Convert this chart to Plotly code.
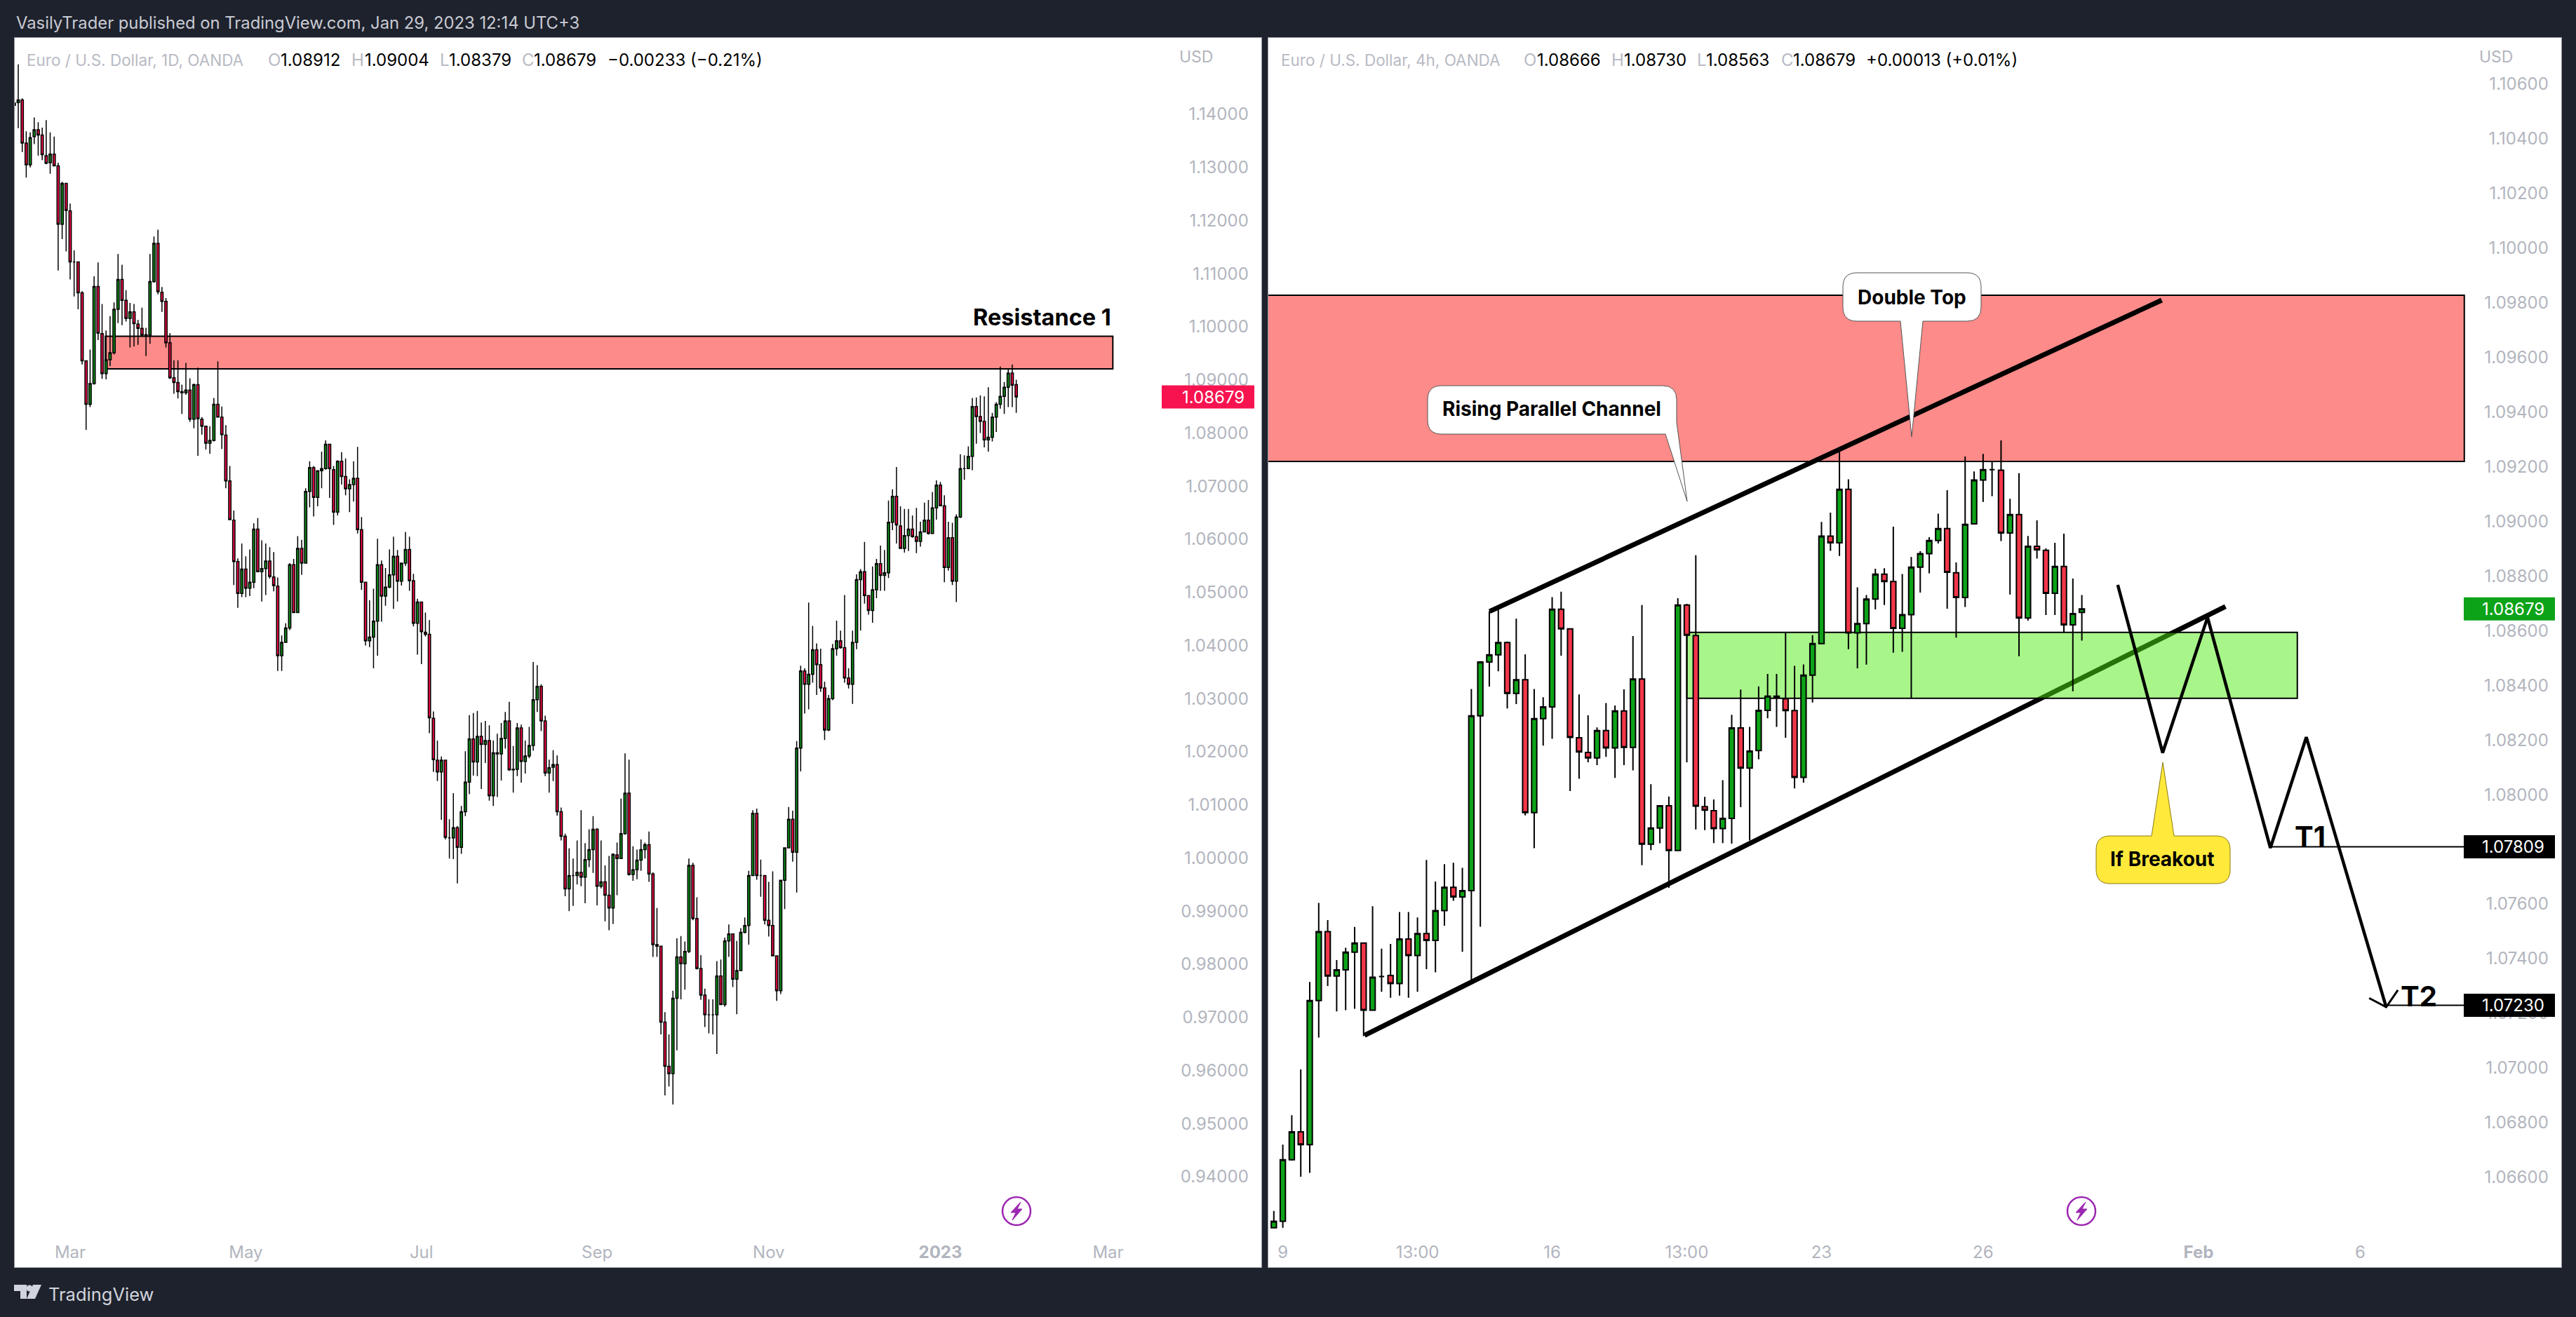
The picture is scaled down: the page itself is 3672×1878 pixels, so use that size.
import plotly.graph_objects as go

W, H = 3672, 1878
BG = "#1E222D"
FONT = "Inter"

# ---------- Daily EURUSD (left panel) ----------
d_open = [
1.1421,1.1422,1.1427,1.1346,1.1305,1.1358,1.1371,1.1361,1.1322,1.1309,
1.1325,1.1303,1.1193,1.1270,1.1218,1.1122,1.1122,1.1064,1.0936,1.0854,
1.0893,1.1076,1.0987,1.0912,1.0938,1.0951,1.1033,1.1089,1.1050,1.1016,
1.1028,1.1005,1.0997,1.0984,1.0984,1.1085,1.1157,1.1065,1.1048,1.0970,
1.0904,1.0895,1.0878,1.0876,1.0881,1.0826,1.0891,1.0826,1.0813,1.0781,
1.0786,1.0854,1.0830,1.0796,1.0710,1.0636,1.0558,1.0498,1.0544,1.0508,
1.0519,1.0619,1.0539,1.0545,1.0559,1.0529,1.0512,1.0381,1.0406,1.0433,
1.0552,1.0462,1.0583,1.0555,1.0690,1.0735,1.0679,1.0729,1.0733,1.0779,
1.0731,1.0651,1.0747,1.0718,1.0695,1.0703,1.0715,1.0618,1.0519,1.0409,
1.0416,1.0446,1.0552,1.0493,1.0510,1.0533,1.0568,1.0521,1.0555,1.0581,
1.0522,1.0442,1.0482,1.0425,1.0421,1.0263,1.0184,1.0162,1.0184,1.0038,
1.0038,1.0057,1.0020,1.0087,1.0143,1.0224,1.0181,1.0229,1.0214,1.0221,
1.0117,1.0198,1.0196,1.0225,1.0258,1.0166,1.0167,1.0245,1.0182,1.0192,
1.0212,1.0298,1.0323,1.0258,1.0160,1.0171,1.0176,1.0087,1.0041,.9942,
.9967,.9967,.9973,.9964,.9997,1.0016,1.0054,.9947,.9955,.9930,
.9906,1.0006,.9999,1.0046,1.0122,.9969,.9978,.9996,1.0016,1.0025,
.9970,.9837,.9834,.9691,.9608,.9594,.9736,.9814,.9801,.9824,
.9986,.9886,.9792,.9742,.9705,.9705,.9705,.9778,.9724,.9844,
.9857,.9772,.9788,.9860,.9873,.9967,1.0084,.9967,.9967,.9883,
.9873,.9816,.9750,.9958,1.0019,1.0073,1.0011,1.0207,1.0352,1.0327,
1.0346,1.0392,1.0364,1.0320,1.0241,1.0300,1.0394,1.0409,1.0396,1.0339,
1.0327,1.0406,1.0524,1.0539,1.0494,1.0466,1.0505,1.0554,1.0532,1.0537,
1.0632,1.0681,1.0625,1.0583,1.0607,1.0619,1.0605,1.0596,1.0614,1.0636,
1.0611,1.0659,1.0702,1.0663,1.0547,1.0603,1.0521,1.0642,1.0733,1.0733,
1.0756,1.0850,1.0831,1.0822,1.0787,1.0792,1.0830,1.0854,1.0869,1.0886,
1.0913,1.08912]
d_high = [
1.1447,1.1494,1.1430,1.1368,1.1366,1.1394,1.1385,1.1375,1.1389,1.1366,
1.1358,1.1309,1.1273,1.1270,1.1232,1.1144,1.1122,1.1067,1.0937,1.0957,
1.1095,1.1121,1.1043,1.0993,1.1020,1.1046,1.1137,1.1117,1.1069,1.1045,
1.1043,1.1013,1.1036,1.0998,1.1137,1.1170,1.1183,1.1075,1.1054,1.0988,
1.0937,1.0937,1.0891,1.0932,1.0903,1.0893,1.0923,1.0830,1.0814,1.0813,
1.0866,1.0935,1.0850,1.0815,1.0738,1.0654,1.0564,1.0592,1.0568,1.0581,
1.0630,1.0640,1.0598,1.0592,1.0585,1.0576,1.0528,1.0419,1.0442,1.0555,
1.0563,1.0606,1.0599,1.0696,1.0747,1.0738,1.0730,1.0765,1.0786,1.0780,
1.0738,1.0749,1.0764,1.0752,1.0713,1.0747,1.0774,1.0642,1.0519,1.0485,
1.0507,1.0601,1.0560,1.0546,1.0581,1.0605,1.0580,1.0555,1.0614,1.0605,
1.0535,1.0488,1.0482,1.0462,1.0448,1.0276,1.0221,1.0191,1.0184,1.0073,
1.0122,1.0060,1.0098,1.0201,1.0269,1.0273,1.0277,1.0255,1.0258,1.0250,
1.0221,1.0234,1.0254,1.0275,1.0294,1.0211,1.0254,1.0251,1.0221,1.0247,
1.0369,1.0363,1.0327,1.0268,1.0185,1.0203,1.0193,1.0095,1.0046,1.0018,
.9999,1.0033,1.0090,1.0028,1.0054,1.0079,1.0056,1.0033,.9986,1.0004,
1.0009,1.0029,1.0112,1.0197,1.0185,1.0022,1.0016,1.0035,1.0029,1.0050,
.9973,.9906,.9834,.9710,.9668,.9750,.9849,.9853,.9843,.9999,
.9991,.9926,.9817,.9754,.9734,.9734,.9806,.9809,.9850,.9875,
.9857,.9844,.9868,.9888,.9976,1.0090,1.0093,.9997,.9967,.9955,
.9975,.9816,.9958,1.0019,1.0096,1.0089,1.0220,1.0362,1.0357,1.0481,
1.0437,1.0404,1.0394,1.0332,1.0307,1.0403,1.0447,1.0428,1.0495,1.0357,
1.0428,1.0534,1.0544,1.0595,1.0494,1.0549,1.0563,1.0588,1.0580,1.0673,
1.0694,1.0736,1.0662,1.0657,1.0657,1.0645,1.0659,1.0633,1.0669,1.0674,
1.0689,1.0711,1.0708,1.0683,1.0633,1.0631,1.0647,1.0760,1.0758,1.0775,
1.0866,1.0867,1.0871,1.0869,1.0886,1.0838,1.0858,1.0925,1.0896,1.0921,
1.0929,1.09004]
d_low = [
1.1401,1.1374,1.1329,1.1281,1.1300,1.1344,1.1322,1.1314,1.1306,1.1288,
1.1302,1.1106,1.1165,1.1142,1.1089,1.1057,1.1033,1.0929,1.0806,1.0849,
1.0891,1.0975,1.0902,1.0901,1.0926,1.0948,1.1007,1.1003,1.1010,1.0961,
1.0963,1.0966,1.0983,1.0945,1.0968,1.1083,1.1061,1.1028,1.0961,1.0902,
1.0874,1.0865,1.0836,1.0872,1.0821,1.0809,1.0757,1.0797,1.0769,1.0761,
1.0784,1.0830,1.0770,1.0696,1.0636,1.0514,1.0471,1.0491,1.0491,1.0493,
1.0508,1.0538,1.0483,1.0495,1.0526,1.0502,1.0352,1.0352,1.0405,1.0429,
1.0461,1.0461,1.0533,1.0554,1.0660,1.0643,1.0662,1.0696,1.0731,1.0678,
1.0627,1.0645,1.0703,1.0683,1.0651,1.0671,1.0611,1.0505,1.0400,1.0397,
1.0357,1.0381,1.0445,1.0475,1.0508,1.0469,1.0483,1.0513,1.0550,1.0503,
1.0436,1.0383,1.0365,1.0417,1.0235,1.0162,1.0145,1.0072,1.0035,.9999,
.9998,.9952,1.0008,1.0079,1.0120,1.0155,1.0154,1.0130,1.0179,1.0108,
1.0098,1.0115,1.0146,1.0206,1.0164,1.0123,1.0154,1.0142,1.0159,1.0188,
1.0202,1.0275,1.0239,1.0154,1.0123,1.0145,1.0080,1.0033,.9928,.9900,
.9910,.9950,.9947,.9915,.9983,.9972,.9911,.9943,.9881,.9864,
.9876,.9930,.9999,1.0044,.9967,.9957,.9960,.9976,.9999,.9955,
.9814,.9814,.9668,.9553,.9570,.9536,.9638,.9734,.9752,.9821,
.9883,.9790,.9733,.9682,.9670,.9668,.9631,.9723,.9720,.9814,
.9757,.9706,.9788,.9858,.9837,.9967,.9959,.9927,.9875,.9852,
.9816,.9731,.9744,.9904,1.0018,.9993,.9935,1.0163,1.0272,1.0280,
1.0330,1.0307,1.0313,1.0222,1.0239,1.0297,1.0381,1.0394,1.0330,1.0319,
1.0290,1.0393,1.0428,1.0479,1.0458,1.0443,1.0489,1.0503,1.0503,1.0527,
1.0617,1.0592,1.0583,1.0575,1.0578,1.0603,1.0574,1.0586,1.0613,1.0609,
1.0610,1.0637,1.0663,1.0519,1.0541,1.0514,1.0482,1.0640,1.0712,1.0733,
1.0730,1.0780,1.0800,1.0773,1.0765,1.0784,1.0802,1.0846,1.0836,1.0849,
1.0849,1.08379]
d_close = [
1.1417,1.1427,1.1346,1.1305,1.1356,1.1371,1.1361,1.1324,1.1308,1.1325,
1.1303,1.1193,1.1270,1.1219,1.1122,1.1122,1.1064,1.0936,1.0854,1.0893,
1.1076,1.0988,1.0912,1.0938,1.0951,1.1033,1.1089,1.1050,1.1016,1.1028,
1.1006,1.0997,1.0984,1.0985,1.1085,1.1157,1.1066,1.1048,1.0970,1.0904,
1.0895,1.0878,1.0876,1.0881,1.0826,1.0891,1.0827,1.0813,1.0781,1.0786,
1.0854,1.0830,1.0797,1.0710,1.0637,1.0558,1.0498,1.0544,1.0508,1.0519,
1.0619,1.0539,1.0545,1.0559,1.0530,1.0513,1.0381,1.0406,1.0433,1.0552,
1.0462,1.0583,1.0555,1.0690,1.0735,1.0679,1.0729,1.0733,1.0779,1.0733,
1.0651,1.0747,1.0718,1.0695,1.0703,1.0715,1.0618,1.0519,1.0409,1.0416,
1.0446,1.0552,1.0493,1.0510,1.0533,1.0568,1.0521,1.0555,1.0581,1.0522,
1.0442,1.0482,1.0426,1.0421,1.0264,1.0185,1.0162,1.0184,1.0039,1.0038,
1.0057,1.0020,1.0087,1.0143,1.0224,1.0181,1.0229,1.0214,1.0221,1.0117,
1.0198,1.0196,1.0225,1.0258,1.0166,1.0167,1.0245,1.0182,1.0192,1.0212,
1.0298,1.0323,1.0258,1.0160,1.0170,1.0176,1.0087,1.0041,.9942,.9967,
.9967,.9973,.9964,.9997,1.0016,1.0054,.9947,.9955,.9930,.9906,
1.0007,.9999,1.0046,1.0122,.9969,.9978,.9996,1.0016,1.0025,.9970,
.9837,.9834,.9691,.9608,.9594,.9736,.9814,.9801,.9824,.9986,
.9886,.9792,.9742,.9705,.9705,.9705,.9778,.9724,.9844,.9857,
.9772,.9788,.9860,.9873,.9967,1.0084,.9967,.9967,.9883,.9873,
.9816,.9750,.9958,1.0019,1.0073,1.0011,1.0207,1.0352,1.0327,1.0346,
1.0392,1.0364,1.0320,1.0241,1.0300,1.0394,1.0409,1.0396,1.0339,1.0327,
1.0406,1.0524,1.0539,1.0494,1.0466,1.0505,1.0554,1.0532,1.0537,1.0632,
1.0681,1.0627,1.0583,1.0607,1.0619,1.0605,1.0596,1.0614,1.0636,1.0611,
1.0659,1.0702,1.0663,1.0547,1.0603,1.0521,1.0642,1.0733,1.0733,1.0756,
1.0850,1.0831,1.0822,1.0787,1.0792,1.0830,1.0854,1.0869,1.0886,1.0913,
1.0890,1.08679]

# ---------- 4h EURUSD (right panel) ----------
h_open = [
1.06416,1.06440,1.06665,1.06767,1.06720,1.07247,1.07499,1.07337,1.07359,1.07424,
1.07457,1.07212,1.07335,1.07339,1.07309,1.07472,1.07412,1.07492,1.07467,1.07576,
1.07661,1.07626,1.07649,1.08288,1.08485,1.08511,1.08556,1.08370,1.08420,1.07934,
1.08278,1.08321,1.08678,1.08606,1.08208,1.08154,1.08134,1.08234,1.08171,1.08306,
1.08173,1.08423,1.07819,1.07878,1.07959,1.07796,1.08693,1.08582,1.07956,1.07941,
1.07876,1.07913,1.08244,1.08097,1.08161,1.08308,1.08360,1.08350,1.08307,1.08063,
1.08437,1.08552,1.08945,1.08921,1.09116,1.08591,1.08625,1.08715,1.08806,1.08779,
1.08608,1.08658,1.08832,1.08881,1.08929,1.08973,1.08811,1.08721,1.08990,1.09150,
1.09188,1.09186,1.08957,1.09024,1.08646,1.08908,1.08893,1.08736,1.08834,1.08621,
1.08666]
h_high = [
1.06478,1.06720,1.06828,1.06995,1.07315,1.07604,1.07541,1.07395,1.07440,1.07516,
1.07457,1.07592,1.07437,1.07454,1.07571,1.07571,1.07551,1.07761,1.07682,1.07746,
1.07751,1.07732,1.08386,1.08488,1.08671,1.08675,1.08560,1.08643,1.08513,1.08386,
1.08356,1.08722,1.08742,1.08606,1.08366,1.08290,1.08246,1.08335,1.08326,1.08385,
1.08580,1.08693,1.08038,1.07959,1.07993,1.08718,1.08698,1.08875,1.07992,1.07982,
1.08053,1.08292,1.08384,1.08248,1.08396,1.08441,1.08441,1.08592,1.08471,1.08476,
1.08583,1.08997,1.09031,1.09256,1.09153,1.08758,1.08730,1.08826,1.08828,1.08980,
1.08807,1.08869,1.08890,1.08941,1.09027,1.09113,1.08849,1.09236,1.09182,1.09246,
1.09217,1.09295,1.09082,1.09175,1.08946,1.09003,1.08900,1.08921,1.08954,1.08790,
1.08730]
h_low = [
1.06416,1.06416,1.06662,1.06603,1.06617,1.07112,1.07300,1.07207,1.07212,1.07217,
1.07117,1.07212,1.07279,1.07257,1.07265,1.07257,1.07279,1.07362,1.07350,1.07521,
1.07612,1.07425,1.07312,1.07517,1.08395,1.08451,1.08315,1.08331,1.07924,1.07804,
1.08179,1.08204,1.08508,1.08013,1.08058,1.08118,1.08108,1.08138,1.08061,1.08108,
1.08089,1.07742,1.07797,1.07822,1.07659,1.07796,1.08118,1.07873,1.07870,1.07823,
1.07823,1.07821,1.07954,1.07832,1.08129,1.08279,1.08248,1.08208,1.08023,1.08044,
1.08337,1.08552,1.08891,1.08873,1.08532,1.08462,1.08475,1.08677,1.08693,1.08519,
1.08522,1.08352,1.08739,1.08809,1.08918,1.08680,1.08574,1.08686,1.08990,1.09070,
1.09091,1.08927,1.08732,1.08506,1.08636,1.08863,1.08657,1.08657,1.08593,1.08378,
1.08563]
h_close = [
1.06440,1.06665,1.06767,1.06720,1.07247,1.07499,1.07337,1.07359,1.07424,1.07457,
1.07212,1.07332,1.07335,1.07309,1.07472,1.07412,1.07492,1.07467,1.07576,1.07661,
1.07626,1.07649,1.08288,1.08485,1.08511,1.08556,1.08370,1.08420,1.07934,1.08278,
1.08321,1.08678,1.08606,1.08209,1.08156,1.08134,1.08234,1.08171,1.08306,1.08173,
1.08423,1.07819,1.07878,1.07959,1.07796,1.08693,1.08583,1.07958,1.07943,1.07876,
1.07913,1.08244,1.08097,1.08159,1.08308,1.08360,1.08354,1.08307,1.08063,1.08437,
1.08552,1.08945,1.08921,1.09116,1.08591,1.08625,1.08715,1.08806,1.08779,1.08608,
1.08658,1.08832,1.08881,1.08929,1.08973,1.08813,1.08721,1.08988,1.09150,1.09188,
1.09188,1.08957,1.09024,1.08646,1.08908,1.08895,1.08736,1.08834,1.08621,1.08662,
1.08679]

# ---------- axes ----------
d_ticks_y = [0.94, 0.95, 0.96, 0.97, 0.98, 0.99, 1.00, 1.01, 1.02, 1.03, 1.04,
             1.05, 1.06, 1.07, 1.08, 1.09, 1.10, 1.11, 1.12, 1.13, 1.14]
h_ticks_y = [1.066, 1.068, 1.070, 1.072, 1.074, 1.076, 1.078, 1.080, 1.082, 1.084, 1.086,
             1.088, 1.090, 1.092, 1.094, 1.096, 1.098, 1.100, 1.102, 1.104, 1.106]
d_ticks_x = [14, 58, 102, 146, 189, 232, 274]
d_labels_x = ["Mar", "May", "Jul", "Sep", "Nov", "<b>2023</b>", "Mar"]
h_ticks_x = [1, 16, 31, 46, 61, 79, 103, 121]
h_labels_x = ["9", "13:00", "16", "13:00", "23", "26", "<b>Feb</b>", "6"]

# ---------- drawings, in price / bar units ----------
d_zone = dict(x0=22.8, x1=275.2, top=1.09822, bottom=1.09208)
h_red_zone = dict(x0=-3, x1=132.6, top=1.09826, bottom=1.09218)
h_green_zone = dict(x0=46, x1=114.0, top=1.08593, bottom=1.08352)
upper_x, upper_y = [24.03, 98.9], [1.08670, 1.09808]
lower_x, lower_y = [10.1, 106.0], [1.07120, 1.08688]
path_x = [94.0, 99.0, 104.0, 111.0, 115.0, 123.9]
path_y = [1.08767, 1.08153, 1.08648, 1.07805, 1.08210, 1.07223]
head_x = [122.0, 123.9, 125.2]
head_y = [1.07256, 1.07223, 1.07285]
t1_x, t1_y = [111.0, 132.6], [1.07809, 1.07809]
t2_x, t2_y = [123.9, 132.6], [1.07230, 1.07230]
last_price = 1.08679

D_RED, D_GREEN = "#F70A47", "#0F8F1A"
H_RED, H_GREEN = "#F23649", "#0DA318"

fig = go.Figure()


def candles(x, o, h, l, c, up, down, lw, xa, ya):
    fig.add_trace(go.Candlestick(
        x=x, open=o, high=h, low=l, close=c, xaxis=xa, yaxis=ya, whiskerwidth=0,
        increasing=dict(fillcolor=up, line=dict(color="#000000", width=lw)),
        decreasing=dict(fillcolor=down, line=dict(color="#000000", width=lw)),
        showlegend=False, hoverinfo="skip"))


candles(list(range(len(d_open))), d_open, d_high, d_low, d_close, D_GREEN, D_RED, 1.5, "x", "y")
candles(list(range(len(h_open))), h_open, h_high, h_low, h_close, H_GREEN, H_RED, 2, "x2", "y2")


def line(x, y, width):
    fig.add_trace(go.Scatter(x=x, y=y, mode="lines", xaxis="x2", yaxis="y2", showlegend=False,
                             hoverinfo="skip", line=dict(color="#000000", width=width)))


line(path_x, path_y, 4.5)
line(head_x, head_y, 3)
line(t1_x, t1_y, 2)
line(t2_x, t2_y, 2)

shapes = []


def zone(z, xr, yr, fill, lw=2):
    shapes.append(dict(type="rect", xref=xr, yref=yr, x0=z["x0"], x1=z["x1"], y0=z["bottom"], y1=z["top"],
                       fillcolor=fill, line=dict(color="#000000", width=lw), layer="below"))


def seg(xs, ys, lw):
    shapes.append(dict(type="line", xref="x2", yref="y2", x0=xs[0], x1=xs[1], y0=ys[0], y1=ys[1],
                       line=dict(color="#000000", width=lw), layer="below"))


zone(d_zone, "x", "y", "#FC8B89")
zone(h_red_zone, "x2", "y2", "#FC8B89")
seg(upper_x, upper_y, 7)
seg(lower_x, lower_y, 7)
zone(h_green_zone, "x2", "y2", "rgba(78,235,16,0.49)")


def P(x, y):
    return f"{x / W:.6f},{1 - y / H:.6f}"


def pa(d, fill, stroke="#555555", lw=1):
    shapes.append(dict(type="path", xref="paper", yref="paper", path=d, fillcolor=fill,
                       line=dict(color=stroke, width=lw), layer="above"))


def rounded(l, t, r, b, rad, top_pts=(), right_tail=(), bottom_pts=()):
    d = f"M{P(l + rad, t)}"
    for q in top_pts:
        d += f" L{P(*q)}"
    d += f" L{P(r - rad, t)} Q{P(r, t)} {P(r, t + rad)}"
    if right_tail:
        # the pointer replaces the bottom-right corner
        for q in right_tail:
            d += f" L{P(*q)}"
    else:
        d += f" L{P(r, b - rad)} Q{P(r, b)} {P(r - rad, b)}"
    for q in bottom_pts:
        d += f" L{P(*q)}"
    d += f" L{P(l + rad, b)} Q{P(l, b)} {P(l, b - rad)} L{P(l, t + rad)} Q{P(l, t)} {P(l + rad, t)} Z"
    return d


# callouts
pa(rounded(2035, 550, 2390, 619, 20, right_tail=[(2390, 602), (2405, 715), (2374, 619)]), "#FFFFFF")
pa(rounded(2627, 389, 2824, 458, 20, bottom_pts=[(2741, 458), (2725, 623), (2709, 458)]), "#FFFFFF")
pa(rounded(2988, 1192, 3179, 1260, 20, top_pts=[(3067, 1192), (3083, 1087), (3099, 1192)]), "#FFE93B", "#8a7a10")

# price labels
for yr, price, fill, x0, x1, in [("y", last_price, "#F7134F", 1656, 1788),
                                 ("y2", last_price, H_GREEN, 3512, 3642),
                                 ("y2", t1_y[0], "#000000", 3512, 3642),
                                 ("y2", t2_y[0], "#000000", 3512, 3642)]:
    shapes.append(dict(type="rect", xref="paper", yref=yr, ysizemode="pixel", yanchor=price,
                       y0=-16.5, y1=16.5, x0=x0 / W, x1=x1 / W, fillcolor=fill, line=dict(width=0),
                       layer="above"))

# lightning icons
for cx in (1449, 2967):
    cy = 1727
    shapes.append(dict(type="circle", xref="paper", yref="paper", x0=(cx - 20) / W, x1=(cx + 20) / W,
                       y0=1 - (cy + 20) / H, y1=1 - (cy - 20) / H, fillcolor="#FFFFFF",
                       line=dict(color="#9C27B0", width=2.5), layer="above"))
    pa(f"M{P(cx + 6, cy - 13)} L{P(cx - 8, cy + 2)} L{P(cx - 1, cy + 2)} L{P(cx - 6, cy + 13)} "
       f"L{P(cx + 8, cy - 3)} L{P(cx + 1, cy - 3)} Z", "#9C27B0", "#9C27B0", 1)

# footer logo
pa(f"M{P(20, 1832)} L{P(38, 1832)} L{P(38, 1852)} L{P(29, 1852)} L{P(29, 1841)} L{P(20, 1841)} Z",
   "#D1D4DC", "#D1D4DC", 0)
pa(f"M{P(47, 1832)} L{P(59, 1832)} L{P(50, 1852)} L{P(38, 1852)} Z", "#D1D4DC", "#D1D4DC", 0)
shapes.append(dict(type="circle", xref="paper", yref="paper", x0=37.5 / W, x1=46.5 / W,
                   y0=1 - 1841.5 / H, y1=1 - 1832.5 / H, fillcolor="#D1D4DC", line=dict(width=0), layer="above"))

ann = []


def note(x, y, text, size=24, color="#000000", anchor="left"):
    ann.append(dict(xref="paper", yref="paper", x=x / W, y=1 - y / H, text=text, showarrow=False,
                    xanchor=anchor, yanchor="middle", font=dict(family=FONT, size=size, color=color)))


GREY = "#B8BAC4"
note(21, 32, "VasilyTrader published on TradingView.com, Jan 29, 2023 12:14 UTC+3", 23.8, "#C9CBD3")
note(67, 1845, "TradingView", 25.5, "#D1D4DC")

for x, t, c, s in [(36, "Euro / U.S. Dollar, 1D, OANDA", GREY, 22.5), (380, "O", GREY, 24), (398, "1.08912", "#000", 24),
                   (499, "H", GREY, 24), (518, "1.09004", "#000", 24), (625, "L", GREY, 24), (638, "1.08379", "#000", 24),
                   (742, "C", GREY, 24), (759, "1.08679", "#000", 24), (864, "−0.00233 (−0.21%)", "#000", 24),
                   (1824, "Euro / U.S. Dollar, 4h, OANDA", GREY, 22.5), (2170, "O", GREY, 24), (2189, "1.08666", "#000", 24),
                   (2295, "H", GREY, 24), (2313, "1.08730", "#000", 24), (2417, "L", GREY, 24), (2430, "1.08563", "#000", 24),
                   (2537, "C", GREY, 24), (2554, "1.08679", "#000", 24), (2658, "+0.00013 (+0.01%)", "#000", 24)]:
    note(x, 85, t, s, c)

note(1679, 81, "USD", 23, "#B2B5BE")
note(3532, 81, "USD", 23, "#B2B5BE")

note(1586, 453, "<b>Resistance 1</b>", 32.5, "#000000", "right")
note(2212, 583, "<b>Rising Parallel Channel</b>", 28, anchor="center")
note(2725, 424, "<b>Double Top</b>", 28, anchor="center")
note(3082, 1225, "<b>If Breakout</b>", 28, anchor="center")
note(3293, 1192, "<b>T1</b>", 40, anchor="center")
note(3448, 1420, "<b>T2</b>", 40, anchor="center")


def plabel(price, yr, x):
    ann.append(dict(xref="paper", yref=yr, x=x / W, y=price, text=f"{price:.5f}", showarrow=False,
                    xanchor="right", yanchor="middle", font=dict(family=FONT, size=24, color="#FFFFFF")))


plabel(last_price, "y", 1776)
plabel(last_price, "y2", 3629)
plabel(t1_y[0], "y2", 3629)
plabel(t2_y[0], "y2", 3629)

axis_line = dict(showline=True, linecolor="#9598A1", linewidth=1, mirror=True, showgrid=False, zeroline=False)
tick_font = dict(family=FONT, size=24, color="#B2B5BE")


def xaxis(l, r, rng, tv, tt, yname):
    return dict(domain=[l / W, r / W], range=rng, anchor=yname, rangeslider=dict(visible=False),
                tickmode="array", tickvals=tv, ticktext=tt, ticks="", ticklabelposition="inside",
                ticklabelstandoff=10, tickfont=tick_font, **axis_line)


def yaxis(rng, tv, xname):
    return dict(domain=[1 - 1807 / H, 1 - 54 / H], range=rng, anchor=xname, side="right", tickmode="array",
                tickvals=tv, tickformat=".5f", ticks="", ticklabelposition="inside",
                ticklabelstandoff=20, tickfont=tick_font, **axis_line)


fig.update_layout(
    width=W, height=H, margin=dict(l=0, r=0, t=0, b=0), autosize=False,
    paper_bgcolor=BG, plot_bgcolor="#FFFFFF", showlegend=False, boxgap=0.42, boxgroupgap=0, hovermode=False,
    xaxis=xaxis(21, 1798, [0.12, 312.4], d_ticks_x, d_labels_x, "y"),
    yaxis=yaxis([0.92297, 1.15439], d_ticks_y, "x"),
    xaxis2=xaxis(1808, 3651, [-0.61, 143.4], h_ticks_x, h_labels_x, "y2"),
    yaxis2=yaxis([1.06272, 1.10767], h_ticks_y, "x2"),
    shapes=shapes, annotations=ann,
)

fig.write_html("out.html", config=dict(displayModeBar=False),
               post_script="document.body.style.margin='0';document.documentElement.style.overflow='hidden';"
                           "document.body.style.background='#1E222D';")
